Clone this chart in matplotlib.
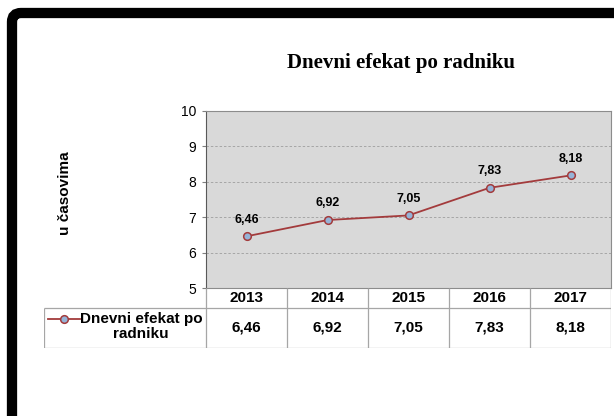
import matplotlib.pyplot as plt
from matplotlib.patches import FancyBboxPatch

plt.rcParams['font.family'] = ['Liberation Sans', 'DejaVu Sans']

years = ['2013', '2014', '2015', '2016', '2017']
values = [6.46, 6.92, 7.05, 7.83, 8.18]
series_name = 'Dnevni efekat po\nradniku'
title = 'Dnevni efekat po radniku'
ylabel = 'u časovima'

line_col = '#a33b3c'
marker_col = '#95b3d7'
grid_col = '#a6a6a6'
table_col = '#a6a6a6'

W, H = 614, 416


def box(x0, y0, x1, y1):
    # pixel box (top-left origin) -> figure fraction rect
    return [x0 / W, 1 - y1 / H, (x1 - x0) / W, (y1 - y0) / H]


def fmt(v):
    return f'{v:.2f}'.replace('.', ',')


fig = plt.figure(figsize=(6.14, 4.16), dpi=100)

# background with the black rounded frame
bg = fig.add_axes([0, 0, 1, 1], zorder=-1)
bg.set_xlim(0, W)
bg.set_ylim(H, 0)
bg.axis('off')
bg.add_patch(FancyBboxPatch((12, 13), 700, 500,
                            boxstyle='round,pad=0,rounding_size=9',
                            linewidth=7.4, edgecolor='black', facecolor='white'))

fig.text(401 / W, 1 - 63 / H, title, family='Liberation Serif',
         fontweight='bold', fontsize=15, ha='center', va='center')
fig.text(65 / W, 1 - 193 / H, ylabel, rotation=90, fontweight='bold',
         fontsize=11, ha='center', va='center')

# main plot
ax = fig.add_axes(box(206, 111, 611, 288))
ax.set_facecolor('#d9d9d9')
x = list(range(len(years)))
ax.plot(x, values, color=line_col, linewidth=1.3, marker='o', markersize=5.5,
        markerfacecolor=marker_col, markeredgecolor=line_col, markeredgewidth=1.1,
        zorder=3)
for xi, v in zip(x, values):
    ax.annotate(fmt(v), (xi, v), xytext=(0, 12), textcoords='offset points',
                ha='center', va='center', fontsize=9, fontweight='bold')
ax.set_xlim(-0.5, len(years) - 0.5)
ax.set_ylim(5, 10)
ax.set_yticks(range(5, 11))
ax.set_xticks([])
ax.yaxis.grid(True, linestyle=(0, (2.5, 2)), color=grid_col, linewidth=0.7)
ax.set_axisbelow(True)
ax.tick_params(axis='y', length=3, width=0.8, color='#7f7f7f', labelsize=10, pad=4)
for s in ['top', 'right']:
    ax.spines[s].set_color('#8c8c8c')
ax.spines['left'].set_color('#595959')
ax.spines['bottom'].set_color('#8c8c8c')

# data table below the plot
tax = fig.add_axes(box(44, 288, 611, 348))
tax.set_xlim(-2.5, len(years) - 0.5)
tax.set_ylim(60, 0)
tax.axis('off')
n = len(years)
tax.hlines([20, 60], -2.5, n - 0.5, color=table_col, linewidth=0.9)
tax.vlines(-2.5, 20, 60, color=table_col, linewidth=0.9)
tax.vlines([i - 0.5 for i in range(n + 1)], 0, 60, color=table_col, linewidth=0.9)
for i, (yr, v) in enumerate(zip(years, values)):
    tax.text(i, 10, yr, ha='center', va='center', fontsize=11, fontweight='bold')
    tax.text(i, 40, fmt(v), ha='center', va='center', fontsize=11, fontweight='bold')
tax.plot([-2.45, -2.06], [31, 31], color=line_col, linewidth=1.3)
tax.plot([-2.255], [31], marker='o', markersize=5.5, markerfacecolor=marker_col,
         markeredgecolor=line_col, markeredgewidth=1.1)
tax.text(-1.3, 38.5, series_name, ha='center', va='center', fontsize=11,
         fontweight='bold', multialignment='center', linespacing=1.0)

fig.savefig('out.png', dpi=100)
